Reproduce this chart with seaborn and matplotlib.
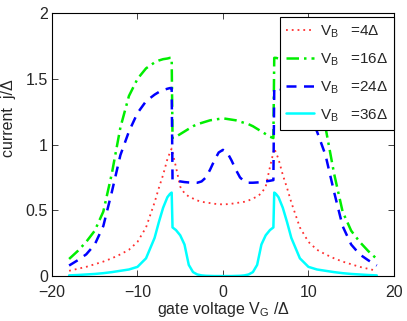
import numpy as np
import pandas as pd
import matplotlib
matplotlib.use("Agg")
import matplotlib.pyplot as plt
import seaborn as sns

# DATA
vg = [-18, -17, -16, -15, -14, -13, -12, -11, -10, -9, -8, -7.5, -7, -6.5, -6.2, -6.0,
      -5.9, -5.5, -5, -4.5, -4, -3.5, -3, -2.5, -2, -1.5, -1, -0.5, 0,
      0.5, 1, 1.5, 2, 2.5, 3, 3.5, 4, 4.5, 5, 5.5, 5.9,
      6.0, 6.2, 6.5, 7, 7.5, 8, 9, 10, 11, 12, 13, 14, 15, 16, 17, 18]

j_4 = [0.04, 0.055, 0.07, 0.09, 0.11, 0.135, 0.165, 0.20, 0.26, 0.37, 0.56, 0.67, 0.77, 0.89, 0.94, 0.97,
       0.94, 0.83, 0.68, 0.63, 0.605, 0.59, 0.575, 0.565, 0.56, 0.555, 0.55, 0.547, 0.545,
       0.547, 0.55, 0.555, 0.56, 0.565, 0.575, 0.59, 0.605, 0.63, 0.68, 0.83, 0.94,
       0.97, 0.94, 0.89, 0.77, 0.67, 0.56, 0.37, 0.26, 0.20, 0.165, 0.135, 0.11, 0.09, 0.07, 0.055, 0.04]

j_16 = [0.13, 0.19, 0.26, 0.345, 0.49, 0.78, 1.13, 1.37, 1.50, 1.58, 1.625, 1.64, 1.65, 1.655, 1.66, 1.66,
        1.05, 1.06, 1.08, 1.10, 1.12, 1.14, 1.155, 1.165, 1.175, 1.185, 1.19, 1.195, 1.2,
        1.195, 1.19, 1.185, 1.175, 1.165, 1.155, 1.14, 1.12, 1.10, 1.08, 1.06, 1.05,
        1.66, 1.66, 1.655, 1.65, 1.64, 1.625, 1.58, 1.50, 1.37, 1.13, 0.78, 0.49, 0.345, 0.26, 0.19, 0.13]

j_24 = [0.08, 0.12, 0.165, 0.24, 0.38, 0.64, 0.92, 1.10, 1.24, 1.33, 1.38, 1.40, 1.415, 1.425, 1.43, 1.43,
        0.73, 0.725, 0.72, 0.715, 0.712, 0.71, 0.71, 0.72, 0.75, 0.81, 0.88, 0.94, 0.96,
        0.94, 0.88, 0.81, 0.75, 0.72, 0.71, 0.71, 0.712, 0.715, 0.72, 0.725, 0.73,
        1.43, 1.43, 1.425, 1.415, 1.40, 1.38, 1.33, 1.24, 1.10, 0.92, 0.64, 0.38, 0.24, 0.165, 0.12, 0.08]

j_36 = [0.005, 0.008, 0.012, 0.016, 0.022, 0.03, 0.04, 0.05, 0.07, 0.135, 0.29, 0.41, 0.52, 0.60, 0.625, 0.635,
        0.37, 0.35, 0.31, 0.24, 0.085, 0.03, 0.012, 0.005, 0.002, 0.001, 0.0, 0.0, 0.0,
        0.0, 0.0, 0.001, 0.002, 0.005, 0.012, 0.03, 0.085, 0.24, 0.31, 0.35, 0.37,
        0.635, 0.625, 0.60, 0.52, 0.41, 0.29, 0.135, 0.07, 0.05, 0.04, 0.03, 0.022, 0.016, 0.012, 0.008, 0.005]

labels = ["V$_\\mathregular{B}$   =4Δ", "V$_\\mathregular{B}$   =16Δ",
          "V$_\\mathregular{B}$   =24Δ", "V$_\\mathregular{B}$   =36Δ"]

df = pd.DataFrame({"vg": vg, "j4": j_4, "j16": j_16, "j24": j_24, "j36": j_36})

# STYLE
sns.set_style("ticks")
plt.rcParams["font.family"] = ["Liberation Sans", "DejaVu Sans"]
plt.rcParams["mathtext.fontset"] = "custom"
plt.rcParams["mathtext.rm"] = "Liberation Sans"
plt.rcParams["xtick.direction"] = "in"
plt.rcParams["ytick.direction"] = "in"

fig = plt.figure(figsize=(4.07, 3.21), dpi=100)
ax = fig.add_axes([0.1278, 0.140, 0.840, 0.819])

sns.lineplot(data=df, x="vg", y="j4", ax=ax, color="#ff3030", linestyle=(0, (1, 2.2)),
             linewidth=1.3, estimator=None, label=labels[0])
sns.lineplot(data=df, x="vg", y="j16", ax=ax, color="#00ee00", linestyle=(0, (5, 2, 1, 2)),
             linewidth=1.8, estimator=None, label=labels[1])
sns.lineplot(data=df, x="vg", y="j24", ax=ax, color="#0000ff", linestyle=(0, (4, 3)),
             linewidth=1.8, estimator=None, label=labels[2])
sns.lineplot(data=df, x="vg", y="j36", ax=ax, color="#00ffff", linestyle="-",
             linewidth=1.8, estimator=None, label=labels[3])

ax.set_xlim(-20, 20)
ax.set_ylim(0, 2)
ax.set_xticks([-20, -10, 0, 10, 20])
ax.set_yticks([0, 0.5, 1, 1.5, 2])
ax.set_yticklabels(["0", "0.5", "1", "1.5", "2"])
ax.tick_params(labelsize=11.5, top=True, right=True, length=4, width=0.6)
ax.tick_params(axis="x", pad=6.5)
ax.tick_params(axis="y", pad=3)
for s in ax.spines.values():
    s.set_linewidth(0.8)
    s.set_color("black")

ax.set_xlabel("gate voltage V$_\\mathregular{G}$ /Δ", fontsize=11.5, labelpad=0)
ax.set_ylabel("current  j/Δ", fontsize=11.5)
ax.yaxis.set_label_coords(-0.104, 0.60)

leg = ax.legend(loc="upper right", bbox_to_anchor=(1.0, 1 - 4 / 263), fontsize=11,
                fancybox=False, framealpha=1, edgecolor="black", handlelength=1.85,
                labelspacing=0.73, borderaxespad=0.0, handletextpad=0.35, borderpad=0.4)
leg.get_frame().set_linewidth(0.8)

plt.savefig("out.png", dpi=100)
